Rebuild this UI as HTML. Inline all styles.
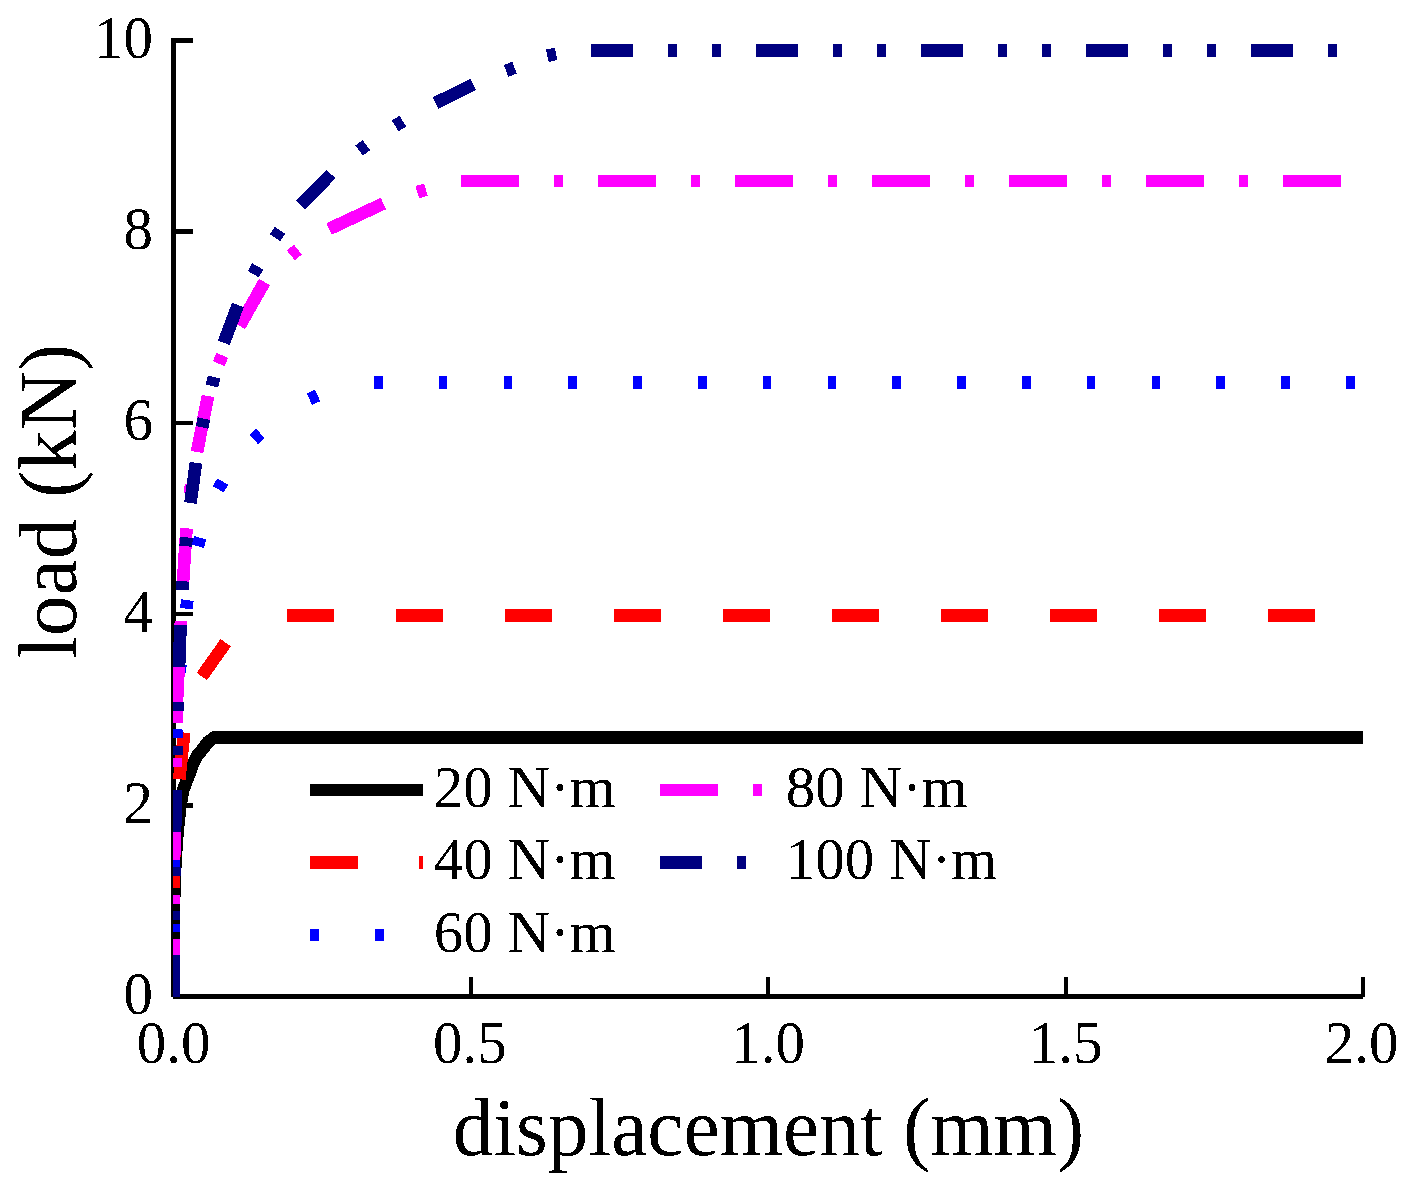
<!DOCTYPE html>
<html><head><meta charset="utf-8"><style>
html,body{margin:0;padding:0;background:#fff;overflow:hidden;}
svg{display:block;}
text{font-family:"Liberation Serif",serif;fill:#000;}
</style></head><body>
<svg width="1413" height="1190" viewBox="0 0 1413 1190" shape-rendering="crispEdges">
<defs><filter id="t" x="0" y="0" width="1413" height="1190" filterUnits="userSpaceOnUse" color-interpolation-filters="sRGB"><feComponentTransfer><feFuncA type="discrete" tableValues="0 1"/></feComponentTransfer></filter><clipPath id="c"><rect x="173" y="0" width="1240" height="997"/></clipPath></defs>

<g fill="#000">
<rect x="171" y="38" width="4.9" height="959"/>
<rect x="173" y="994.2" width="1190" height="4.7"/>
<rect x="171" y="802.95" width="22" height="4.7"/>
<rect x="171" y="611.75" width="22" height="4.7"/>
<rect x="171" y="420.55" width="22" height="4.7"/>
<rect x="171" y="229.35" width="22" height="4.7"/>
<rect x="171" y="38.15" width="22" height="4.7"/>
<rect x="468.77" y="977" width="4.2" height="20"/>
<rect x="766.15" y="977" width="4.2" height="20"/>
<rect x="1063.53" y="977" width="4.2" height="20"/>
<rect x="1360.90" y="977" width="4.2" height="20"/>
</g>
<g clip-path="url(#c)" fill="none" stroke-width="12.7" stroke-linecap="butt" stroke-linejoin="miter">
<polyline points="173.5,997.0 173.5,930.0 174.5,880.0 176.2,850.0 177.5,832.0 180.5,805.0 183.2,790.0 188.6,776.0 192.6,765.0 197.0,756.0 203.6,748.0 208.0,742.0 214.4,737.5 1363.0,737.5" stroke="#000000"/>
<polyline points="173.5,997.0 173.5,890.0 174.5,840.0 177.0,800.0 179.3,779.0 184.2,733.0 188.6,707.9" stroke="#ff0000" stroke-dasharray="47 62"/>
<line x1="201.8" y1="676.5" x2="225.7" y2="642.7" stroke="#ff0000"/>
<line x1="287" y1="615.4" x2="1363" y2="615.4" stroke="#ff0000" stroke-dasharray="47 62"/>
<polyline points="173.5,997.0 173.5,860.0 175.0,780.0 177.0,730.0 180.0,669.0 184.0,625.0 186.7,605.0 190.8,577.8" stroke="#0000ff" stroke-dasharray="8.6 56.2"/>
<line x1="197.8" y1="546.3" x2="200.2" y2="537.7" stroke="#0000ff"/>
<line x1="218.3" y1="489.3" x2="222.7" y2="481.5" stroke="#0000ff"/>
<line x1="253.7" y1="439.5" x2="260.3" y2="433.3" stroke="#0000ff"/>
<line x1="309.4" y1="399.2" x2="317.6" y2="395.4" stroke="#0000ff"/>
<line x1="374" y1="382.4" x2="1363" y2="382.4" stroke="#0000ff" stroke-dasharray="8.6 56.2"/>
<polyline points="173.5,997.0 173.5,900.0 175.0,800.0 177.0,700.0 180.0,640.0 183.0,582.0 186.5,529.0 188.0,512.4" stroke="#ff00ff" stroke-dasharray="58 35 9 35"/>
<line x1="189.9" y1="493.5" x2="191.1" y2="484.5" stroke="#ff00ff"/>
<line x1="197.0" y1="452.0" x2="208.0" y2="396.0" stroke="#ff00ff"/>
<line x1="218.7" y1="363.6" x2="222.3" y2="355.4" stroke="#ff00ff"/>
<line x1="239.6" y1="325.9" x2="264.5" y2="282.0" stroke="#ff00ff"/>
<line x1="290.9" y1="255.4" x2="297.9" y2="249.6" stroke="#ff00ff"/>
<line x1="329.1" y1="229.0" x2="383.4" y2="203.5" stroke="#ff00ff"/>
<line x1="417.3" y1="192.2" x2="425.9" y2="189.6" stroke="#ff00ff"/>
<line x1="461" y1="180.9" x2="1363" y2="180.9" stroke="#ff00ff" stroke-dasharray="58 35 9 35"/>
<polyline points="173.5,997.0 173.5,930.0 174.5,880.0 175.5,800.0 176.5,740.0 178.0,700.0 179.7,646.0 182.5,586.0 186.0,543.0 188.3,522.4" stroke="#000080" stroke-dasharray="42 35 9 35 9 35"/>
<line x1="190.5" y1="503.0" x2="195.9" y2="462.8" stroke="#000080"/>
<line x1="202.1" y1="427.4" x2="203.9" y2="418.6" stroke="#000080"/>
<line x1="211.9" y1="385.9" x2="214.1" y2="377.1" stroke="#000080"/>
<line x1="223.8" y1="342.8" x2="237.9" y2="305.0" stroke="#000080"/>
<line x1="253.3" y1="274.2" x2="257.7" y2="266.4" stroke="#000080"/>
<line x1="275.0" y1="237.7" x2="280.0" y2="230.3" stroke="#000080"/>
<line x1="300.4" y1="204.8" x2="331.0" y2="174.0" stroke="#000080"/>
<line x1="359.1" y1="150.6" x2="366.3" y2="145.2" stroke="#000080"/>
<line x1="395.2" y1="125.9" x2="402.8" y2="121.1" stroke="#000080"/>
<line x1="435.6" y1="103.0" x2="473.2" y2="84.5" stroke="#000080"/>
<line x1="506.1" y1="70.9" x2="514.5" y2="67.7" stroke="#000080"/>
<line x1="547.3" y1="55.8" x2="556.1" y2="53.8" stroke="#000080"/>
<line x1="591" y1="50.4" x2="1363" y2="50.4" stroke="#000080" stroke-dasharray="42 35 9 35 9 35"/>
</g>
<g filter="url(#t)">
<g font-size="59px">
<text transform="translate(153,1013.9) scale(1,1.045)" text-anchor="end">0</text>
<text transform="translate(153,822.7) scale(1,1.045)" text-anchor="end">2</text>
<text transform="translate(153,631.5) scale(1,1.045)" text-anchor="end">4</text>
<text transform="translate(153,440.3) scale(1,1.045)" text-anchor="end">6</text>
<text transform="translate(153,249.1) scale(1,1.045)" text-anchor="end">8</text>
<text transform="translate(153,57.9) scale(1,1.045)" text-anchor="end">10</text>
<text transform="translate(173.5,1062.7) scale(1,1.045)" text-anchor="middle">0.0</text>
<text transform="translate(469.9,1062.7) scale(1,1.045)" text-anchor="middle">0.5</text>
<text transform="translate(768.2,1062.7) scale(1,1.045)" text-anchor="middle">1.0</text>
<text transform="translate(1065.6,1062.7) scale(1,1.045)" text-anchor="middle">1.5</text>
<text transform="translate(1361.5,1062.7) scale(1,1.045)" text-anchor="middle">2.0</text>
</g>
<text x="768.4" y="1155" font-size="81.5px" text-anchor="middle">displacement (mm)</text>
<text transform="translate(75.7,501.4) rotate(-90)" x="0" y="0" font-size="81.5px" text-anchor="middle">load (kN)</text>
<g fill="none" stroke-width="12.7">
<line x1="309.7" y1="790.0" x2="423.1" y2="790.0" stroke="#000000"/>
<line x1="309.7" y1="862.4" x2="423.1" y2="862.4" stroke="#ff0000" stroke-dasharray="48.5 60.5"/>
<line x1="309.7" y1="935.0" x2="423.1" y2="935.0" stroke="#0000ff" stroke-dasharray="9 56"/>
<line x1="659.7" y1="790.0" x2="773.1" y2="790.0" stroke="#ff00ff" stroke-dasharray="58 35 9 35"/>
<line x1="659.7" y1="862.4" x2="773.1" y2="862.4" stroke="#000080" stroke-dasharray="42 35 9 35 9 35"/>
</g>
<g font-size="59px">
<text x="433.7" y="806.7">20 N·m</text>
<text x="433.7" y="878.8">40 N·m</text>
<text x="433.7" y="951.5">60 N·m</text>
<text x="785.8" y="807.0">80 N·m</text>
<text x="785.8" y="879.2">100 N·m</text>
</g>
</g>
</svg></body></html>
